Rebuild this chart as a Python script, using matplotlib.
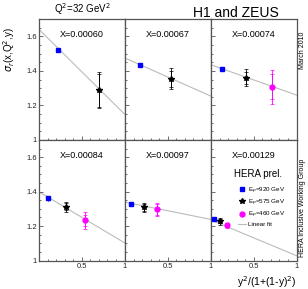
import matplotlib
matplotlib.use("Agg")
import matplotlib.pyplot as plt
import numpy as np
from matplotlib.ticker import MultipleLocator
from matplotlib.lines import Line2D

# ---- data ----
bin_labels = ["X=0.00060", "X=0.00067", "X=0.00074", "X=0.00084", "X=0.00097", "X=0.00129"]
fit_intercept = [1.64, 1.474, 1.435, 1.399, 1.339, 1.235]
fit_slope = [-0.49, -0.219, -0.175, -0.296, -0.100, -0.207]

x920 = [0.22, 0.18, 0.13, 0.11, 0.07, 0.035]
y920 = [1.52, 1.435, 1.41, 1.362, 1.33, 1.239]
e920 = [0.012, 0.010, 0.010, 0.014, 0.010, 0.010]

x575 = [0.70, 0.54, 0.415, 0.31, 0.22, 0.11]
y575 = [1.288, 1.355, 1.36, 1.312, 1.308, 1.229]
etot575 = [0.104, 0.060, 0.050, 0.030, 0.028, 0.020]
estat575 = [0.095, 0.047, 0.036, 0.020, 0.020, 0.012]

x460 = [None, None, 0.71, 0.535, 0.375, 0.19]
y460 = [None, None, 1.307, 1.233, 1.297, 1.204]
etot460 = [None, None, 0.100, 0.048, 0.036, 0.016]
estat460 = [None, None, 0.072, 0.030, 0.030, 0.010]

legend_labels = ["E$_p$=920 GeV", "E$_p$=575 GeV", "E$_p$=460 GeV", "Linear fit"]

# ---- figure ----
W, H = 308, 289
fig = plt.figure(figsize=(W / 100, H / 100), dpi=100)
plt.rcParams['font.family'] = ['Liberation Sans', 'DejaVu Sans']

left_px = [39, 125, 211]
pw = 85.5
rows_px = [(19, 140), (140, 260.5)]
axc = '#555555'
fitc = '#bbbbbb'

axes = []
for i in range(6):
    r, c = divmod(i, 3)
    top, bot = rows_px[r]
    ax = fig.add_axes([left_px[c] / W, 1 - bot / H, pw / W, (bot - top) / H])
    ax.set_xlim(0, 1)
    ax.set_ylim(1, 1.7)
    for s in ax.spines.values():
        s.set_color(axc)
        s.set_linewidth(0.9)
    ax.xaxis.set_major_locator(MultipleLocator(0.5))
    ax.xaxis.set_minor_locator(MultipleLocator(0.1))
    ax.yaxis.set_major_locator(MultipleLocator(0.2))
    ax.yaxis.set_minor_locator(MultipleLocator(0.05))
    ax.tick_params(which='both', direction='in', colors=axc, labelcolor='#222222',
                   labelsize=5.5, pad=1.5, width=0.6)
    ax.tick_params(which='major', length=3)
    ax.tick_params(which='minor', length=1.5)
    if c == 0:
        ax.set_yticks([1, 1.2, 1.4, 1.6])
        ax.set_yticklabels(["1", "1.2", "1.4", "1.6"])
    else:
        ax.set_yticklabels([])
    if r == 1:
        ax.set_xticks([0.5, 1])
        ax.set_xticklabels(["0.5", "1"])
    else:
        ax.set_xticklabels([])

    xs = np.array([0.0, 1.0])
    ax.plot(xs, fit_intercept[i] + fit_slope[i] * xs, color=fitc, lw=0.8, zorder=1)

    ax.errorbar([x920[i]], [y920[i]], yerr=[e920[i]], fmt='s', color='#0000ff',
                ms=3.5, elinewidth=0.8, capsize=0, zorder=3)
    ax.errorbar([x575[i]], [y575[i]], yerr=[etot575[i]], fmt='*', color='black',
                ms=4, elinewidth=0.6, capsize=1.6, capthick=0.5, zorder=3)
    ax.errorbar([x575[i]], [y575[i]], yerr=[estat575[i]], fmt='none', ecolor='black',
                elinewidth=0.6, capsize=1.6, capthick=0.5, zorder=3)
    if x460[i] is not None:
        ax.errorbar([x460[i]], [y460[i]], yerr=[etot460[i]], fmt='o', color='#ff00ff',
                    ms=3.5, elinewidth=0.6, capsize=1.6, capthick=0.5, zorder=3)
        ax.errorbar([x460[i]], [y460[i]], yerr=[estat460[i]], fmt='none', ecolor='#ff00ff',
                    elinewidth=0.6, capsize=1.6, capthick=0.5, zorder=3)

    ax.text(0.5, 0.875, bin_labels[i], transform=ax.transAxes, ha='center', va='center',
            fontsize=6.5)
    axes.append(ax)

# legend in last panel
axl = axes[5]
axl.text(0.55, 0.72, "HERA prel.", transform=axl.transAxes, ha='center', va='center', fontsize=7)
handles = [Line2D([], [], marker='s', color='#0000ff', ls='none', ms=3.5),
           Line2D([], [], marker='*', color='black', ls='none', ms=4),
           Line2D([], [], marker='o', color='#ff00ff', ls='none', ms=3.5),
           Line2D([], [], color=fitc, lw=0.8)]
leg = axl.legend(handles, legend_labels, loc='upper left', bbox_to_anchor=(0.28, 0.65),
                 frameon=False, fontsize=4.5, handlelength=1.2, handletextpad=0.4,
                 labelspacing=0.3, borderpad=0)

fig.text(82 / W, 1 - 9 / H, "Q$^2$=32 GeV$^2$", ha='center', va='center', fontsize=7)
fig.text(236 / W, 1 - 13 / H, "H1 and ZEUS", ha='center', va='center', fontsize=10)
fig.text(9 / W, 1 - 50 / H, r"$\sigma_r$(x,Q$^2$,y)", rotation=90, ha='center', va='center',
         fontsize=7)
fig.text(297 / W, 1 - 286 / H, "y$^2$/(1+(1-y)$^2$)", ha='right', va='baseline', fontsize=7.5)
fig.text(302 / W, 1 - 50 / H, "March 2010", rotation=90, ha='center', va='center', fontsize=5)
fig.text(302 / W, 1 - 208 / H, "HERA Inclusive Working Group", rotation=90, ha='center',
         va='center', fontsize=5)

fig.savefig("out.png", dpi=100)
